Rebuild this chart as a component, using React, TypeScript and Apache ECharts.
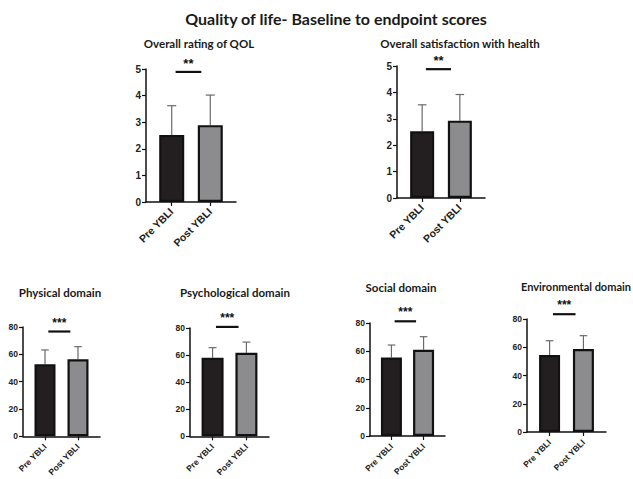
import { useEffect, useRef } from 'react';
import * as echarts from 'echarts';

const mainTitle = 'Quality of life- Baseline to endpoint scores';
const categories = ['Pre YBLI', 'Post YBLI'];
const panelTitles = [
  'Overall rating of QOL',
  'Overall satisfaction with health',
  'Physical domain',
  'Psychological domain',
  'Social domain',
  'Environmental domain',
];
const preMeans = [2.52, 2.53, 52.8, 58.0, 55.6, 54.5];
const preSD = [1.1, 1.0, 10.4, 7.5, 8.8, 10.1];
const postMeans = [2.89, 2.93, 56.4, 61.7, 61.1, 58.8];
const postSD = [1.13, 0.99, 9.2, 7.9, 9.2, 9.4];
const yMax = [5, 5, 80, 80, 80, 80];
const yInterval = [1, 1, 20, 20, 20, 20];
const sigLevel = [4.89, 4.88, 76.7, 80.8, 81.2, 83.4];
const sigStars = ['**', '**', '***', '***', '***', '***'];

// layout (pixels)
const grids = [
  { left: 146, top: 69, width: 90, height: 133, bw: 25, fs: 10.5, ys: 10, m: 8 },
  { left: 397, top: 66, width: 88, height: 132, bw: 24, fs: 10.5, ys: 10, m: 8 },
  { left: 23, top: 327, width: 77, height: 114, bw: 21, fs: 8.5, ys: 8.5, m: 9 },
  { left: 190, top: 328, width: 79, height: 113, bw: 22, fs: 8.5, ys: 8.5, m: 9 },
  { left: 370, top: 323, width: 75, height: 113, bw: 21, fs: 8.5, ys: 8.5, m: 9 },
  { left: 527, top: 319, width: 79, height: 113, bw: 21, fs: 8.5, ys: 8.5, m: 9 },
];
const titlePos = [
  { x: 199, y: 43, align: 'center', fs: 11.5 },
  { x: 460, y: 43, align: 'center', fs: 11.5 },
  { x: 60, y: 292, align: 'center', fs: 11.5 },
  { x: 235, y: 292, align: 'center', fs: 11.5 },
  { x: 401, y: 287, align: 'center', fs: 11.5 },
  { x: 631, y: 286, align: 'right', fs: 11 },
];
const X_MAX = 7;
const xPos = [2, 5];
const sigSpan = [2.3, 4.3];
const TITLE_FONT = 'Lato, "Open Sans", sans-serif';
const AXIS_FONT = '"Liberation Sans", Arial, sans-serif';

export default function App() {
  const ref = useRef<HTMLDivElement>(null);
  useEffect(() => {
    if (!ref.current) return;
    const chart = echarts.init(ref.current, null, { renderer: 'svg' });

    const grid: any[] = [];
    const xAxis: any[] = [];
    const yAxis: any[] = [];
    const series: any[] = [];

    grids.forEach((g, i) => {
      grid.push({ left: g.left, top: g.top, width: g.width, height: g.height, containLabel: false });
      xAxis.push({
        type: 'value',
        gridIndex: i,
        min: 0,
        max: X_MAX,
        splitLine: { show: false },
        axisLine: { show: true, onZero: false, lineStyle: { color: '#111', width: 1.5 } },
        axisTick: { show: true, customValues: xPos, length: 4, lineStyle: { color: '#111', width: 1.2 } },
        axisLabel: {
          customValues: xPos,
          rotate: 45,
          margin: g.m,
          formatter: (v: number) => categories[xPos.indexOf(v)] ?? '',
          fontFamily: AXIS_FONT,
          fontWeight: 'bold',
          fontSize: g.fs,
          color: '#222',
        },
      });
      yAxis.push({
        type: 'value',
        gridIndex: i,
        min: 0,
        max: yMax[i],
        interval: yInterval[i],
        splitLine: { show: false },
        axisLine: { show: true, lineStyle: { color: '#111', width: 1.5 } },
        axisTick: { show: true, length: 4, lineStyle: { color: '#111', width: 1.2 } },
        axisLabel: {
          margin: 5,
          fontFamily: AXIS_FONT,
          fontWeight: 'bold',
          fontSize: g.ys,
          color: '#222',
        },
      });
      // error bars (drawn below bars)
      series.push({
        type: 'custom',
        xAxisIndex: i,
        yAxisIndex: i,
        z: 1,
        data: [
          [xPos[0], preMeans[i], preSD[i]],
          [xPos[1], postMeans[i], postSD[i]],
        ],
        encode: { x: 0, y: 1 },
        renderItem: (_p: any, api: any) => {
          const x = api.value(0);
          const m = api.value(1);
          const s = api.value(2);
          const p0 = api.coord([x, m]);
          const p1 = api.coord([x, m + s]);
          const hw = g.bw * 0.18;
          const st = { stroke: '#6a6a6a', lineWidth: 1.2 };
          return {
            type: 'group',
            children: [
              { type: 'line', shape: { x1: p0[0], y1: p0[1], x2: p1[0], y2: p1[1] }, style: st },
              { type: 'line', shape: { x1: p1[0] - hw, y1: p1[1], x2: p1[0] + hw, y2: p1[1] }, style: st },
            ],
          };
        },
      });
      series.push({
        type: 'bar',
        xAxisIndex: i,
        yAxisIndex: i,
        z: 2,
        barWidth: g.bw,
        data: [
          { value: [xPos[0], preMeans[i]], itemStyle: { color: '#231f20' } },
          { value: [xPos[1], postMeans[i]], itemStyle: { color: '#8c8c8e' } },
        ],
        itemStyle: { borderColor: '#111', borderWidth: 2.2 },
      });
      series.push({
        type: 'custom',
        xAxisIndex: i,
        yAxisIndex: i,
        z: 3,
        clip: false,
        data: [[sigSpan[0], sigSpan[1], sigLevel[i]]],
        encode: { x: [0, 1], y: 2 },
        renderItem: (_p: any, api: any) => {
          const a = api.coord([api.value(0), api.value(2)]);
          const b = api.coord([api.value(1), api.value(2)]);
          return {
            type: 'group',
            children: [
              { type: 'line', shape: { x1: a[0], y1: a[1], x2: b[0], y2: b[1] }, style: { stroke: '#111', lineWidth: 2.2 } },
              {
                type: 'text',
                x: (a[0] + b[0]) / 2,
                y: a[1] - 15,
                style: {
                  text: sigStars[i],
                  fontFamily: AXIS_FONT,
                  fontWeight: 'bold',
                  fontSize: i < 2 ? 13 : 12,
                  fill: '#111',
                  align: 'center',
                  verticalAlign: 'top',
                },
              },
            ],
          };
        },
      });
    });

    const graphic: any[] = [
      {
        type: 'text',
        x: 336,
        y: 18,
        style: {
          text: mainTitle,
          fontFamily: TITLE_FONT,
          fontWeight: 'bold',
          fontSize: 16,
          fill: '#1a1a1a',
          align: 'center',
          verticalAlign: 'middle',
        },
      },
      ...panelTitles.map((t, i) => ({
        type: 'text',
        x: titlePos[i].x,
        y: titlePos[i].y,
        style: {
          text: t,
          fontFamily: TITLE_FONT,
          fontWeight: 'bold',
          fontSize: titlePos[i].fs,
          fill: '#1a1a1a',
          align: titlePos[i].align,
          verticalAlign: 'middle',
        },
      })),
    ];

    chart.setOption({
      animation: false,
      backgroundColor: '#ffffff',
      grid,
      xAxis,
      yAxis,
      series,
      graphic,
    });
    return () => chart.dispose();
  }, []);
  return (
    <div
      ref={ref}
      style={{ position: 'fixed', left: 0, top: 0, width: 633, height: 479, background: '#fff' }}
    />
  );
}
